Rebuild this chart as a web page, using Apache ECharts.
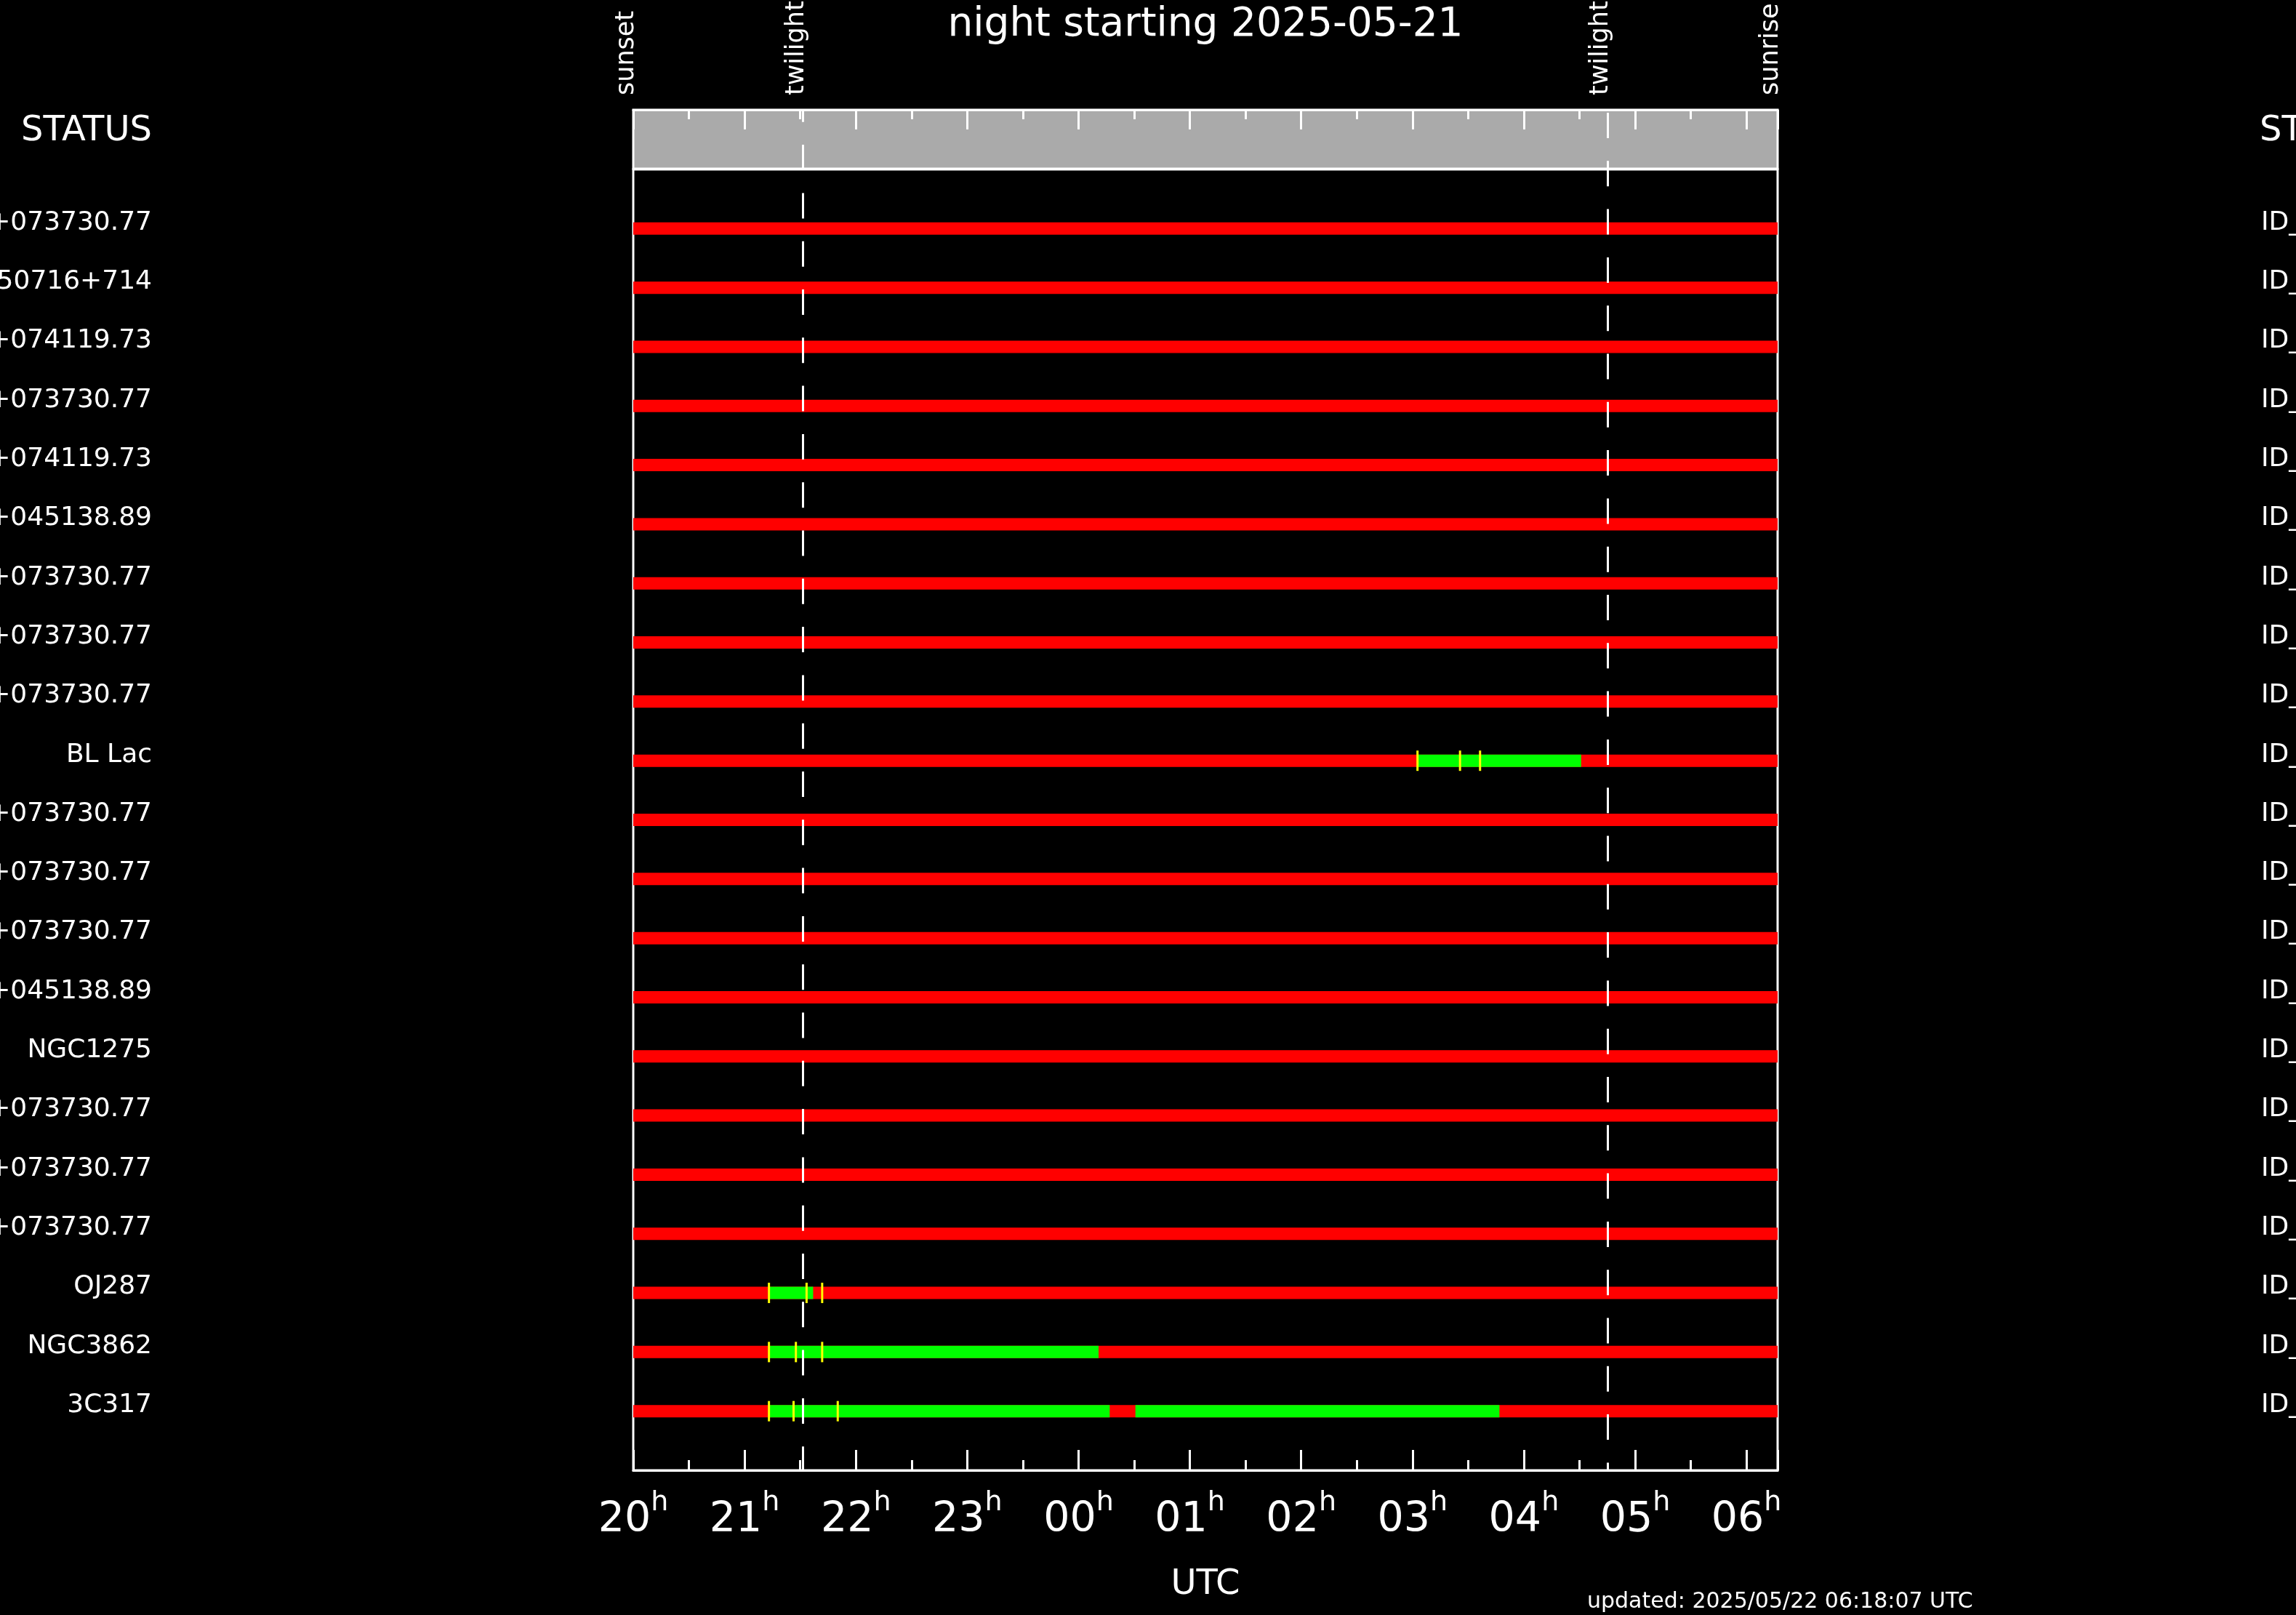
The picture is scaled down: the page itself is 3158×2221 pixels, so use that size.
<!DOCTYPE html>
<html><head><meta charset="utf-8">
<script src="https://cdn.jsdelivr.net/npm/echarts@6/dist/echarts.min.js"></script>
<style>html,body{margin:0;padding:0;background:#000;}#c{width:3158px;height:2221px;}</style>
</head><body><div id="c"></div>
<script>
// ---------------- data ----------------
const chartTitle = 'night starting 2025-05-21';
const updatedText = 'updated: 2025/05/22 06:18:07 UTC';
const axisName = 'UTC';
const statusHeader = 'STATUS';
const nightStart = 20.0;      // sunset, hours UTC (24+ = after midnight)
const nightEnd = 30.28;       // sunrise
const twilightTimes = [21.525, 28.751];
const eventNames = ['sunset', 'twilight', 'twilight', 'sunrise'];
const eventTimes = [20.0, 21.525, 28.751, 30.28];
const targetNames = ['+073730.77', 'S50716+714', '+074119.73', '+073730.77', '+074119.73',
  '+045138.89', '+073730.77', '+073730.77', '+073730.77', 'BL Lac', '+073730.77',
  '+073730.77', '+073730.77', '+045138.89', 'NGC1275', '+073730.77', '+073730.77',
  '+073730.77', 'OJ287', 'NGC3862', '3C317'];
const targetIds = ['ID_', 'ID_', 'ID_', 'ID_', 'ID_', 'ID_', 'ID_', 'ID_', 'ID_', 'ID_', 'ID_',
  'ID_', 'ID_', 'ID_', 'ID_', 'ID_', 'ID_', 'ID_', 'ID_', 'ID_', 'ID_'];
// [row, start, end] observable windows
const greenSegments = [[9, 27.045, 28.515], [18, 21.219, 21.616], [19, 21.219, 24.18],
  [20, 21.219, 24.28], [20, 24.511, 27.781]];
// [row, time] yellow markers
const yellowMarks = [[9, 27.045], [9, 27.427], [9, 27.607], [18, 21.219], [18, 21.557], [18, 21.697],
  [19, 21.219], [19, 21.461], [19, 21.697], [20, 21.219], [20, 21.440], [20, 21.837]];

// ---------------- chart ----------------
const F = 'DejaVu Sans';
const redRows = targetNames.map((n, i) => [i, nightStart, nightEnd]);
const chart = echarts.init(document.getElementById('c'));

function barItem(color, h) {
  return function (params, api) {
    const r = api.value(0), s = api.value(1), e = api.value(2);
    const p1 = api.coord([s, r]), p2 = api.coord([e, r]);
    return { type: 'rect', shape: { x: p1[0], y: p1[1] - h / 2, width: p2[0] - p1[0], height: h },
      style: { fill: color } };
  };
}
const pad = v => { const h = Math.round(v) % 24; return (h < 10 ? '0' : '') + h; };
const dashP = [35, 31.3];
function twl(t, y0, y1, off) {
  const ls = { color: '#fff', width: 3, type: dashP, dashOffset: off };
  return [{ coord: [t, y0], lineStyle: ls }, { coord: [t, y1], lineStyle: ls }];
}
const rowLabel = { color: '#fff', fontSize: 36, fontFamily: F, verticalAlign: 'bottom', lineHeight: 16 };

const option = {
  backgroundColor: '#000',
  animation: false,
  grid: [
    { left: 871, top: 233, width: 1574, height: 1789, containLabel: false, outerBoundsMode: 'none',
      show: true, borderColor: '#fff', borderWidth: 3, backgroundColor: '#000' },
    { left: 871, top: 151, width: 1574, height: 81, containLabel: false, outerBoundsMode: 'none',
      show: true, borderColor: '#fff', borderWidth: 3, backgroundColor: '#aaaaaa' }
  ],
  xAxis: [
    { type: 'value', gridIndex: 0, min: nightStart, max: nightEnd, interval: 1, position: 'bottom',
      axisLine: { show: true, onZero: false, lineStyle: { color: '#fff', width: 3 } },
      axisTick: { show: true, inside: true, length: 28, lineStyle: { color: '#fff', width: 3 } },
      minorTick: { show: true, splitNumber: 2, length: 14, lineStyle: { color: '#fff', width: 3 } },
      splitLine: { show: false },
      axisLabel: { margin: 26, formatter: v => '{d|' + pad(v) + '}{h|h}',
        rich: { d: { fontSize: 57, fontFamily: F, color: '#fff', padding: [15, 0, 0, 0] },
                h: { fontSize: 38, fontFamily: F, color: '#fff', verticalAlign: 'top' } } },
      name: axisName, nameLocation: 'middle', nameGap: 134,
      nameTextStyle: { color: '#fff', fontSize: 48, fontFamily: F } },
    { type: 'value', gridIndex: 1, min: nightStart, max: nightEnd, interval: 1, position: 'top',
      axisLine: { show: true, onZero: false, lineStyle: { color: '#fff', width: 3 } },
      axisTick: { show: true, inside: true, length: 27, lineStyle: { color: '#fff', width: 3 } },
      minorTick: { show: true, splitNumber: 2, length: 13, lineStyle: { color: '#fff', width: 3 } },
      splitLine: { show: false }, axisLabel: { show: false } }
  ],
  yAxis: [
    { type: 'value', gridIndex: 0, inverse: true, min: -1, max: 21, interval: 1, position: 'left',
      axisLine: { show: false, onZero: false }, axisTick: { show: false }, splitLine: { show: false },
      axisLabel: Object.assign({ margin: 662, formatter: v => targetNames[v] || '' }, rowLabel) },
    { type: 'value', gridIndex: 1, min: 0, max: 1, show: false },
    { type: 'value', gridIndex: 0, inverse: true, min: -1, max: 21, interval: 1, position: 'right',
      axisLine: { show: false, onZero: false }, axisTick: { show: false }, splitLine: { show: false },
      axisLabel: Object.assign({ margin: 665, align: 'left', formatter: v => targetIds[v] || '' }, rowLabel) }
  ],
  series: [
    { type: 'custom', xAxisIndex: 0, yAxisIndex: 0, data: redRows, encode: { x: [1, 2], y: 0 },
      renderItem: barItem('#ff0000', 17), z: 2 },
    { type: 'custom', xAxisIndex: 0, yAxisIndex: 0, data: greenSegments, encode: { x: [1, 2], y: 0 },
      renderItem: barItem('#00ff00', 17), z: 3 },
    { type: 'custom', xAxisIndex: 0, yAxisIndex: 0, data: yellowMarks, encode: { x: 1, y: 0 },
      renderItem: function (params, api) {
        const p = api.coord([api.value(1), api.value(0)]);
        return { type: 'rect', shape: { x: p[0] - 1.5, y: p[1] - 14, width: 3, height: 28 }, style: { fill: '#ffff00' } };
      }, z: 4,
      markLine: { silent: true, symbol: 'none', label: { show: false }, z: 10, animation: false,
        data: [twl(twilightTimes[0], -1, 21, 33.9), twl(twilightTimes[1], -1, 21, 11.7)] } },
    { type: 'line', xAxisIndex: 1, yAxisIndex: 1, data: [], z: 5,
      markLine: { silent: true, symbol: 'none', label: { show: false }, z: 10, animation: false,
        data: [twl(twilightTimes[0], 1, 0, 18.2), twl(twilightTimes[1], 1, 0, 62.3)] } }
  ]
};
chart.setOption(option);

const g = [
  { type: 'text', x: 1658, y: 35, style: { text: chartTitle, fill: '#fff', font: '55px "DejaVu Sans"', align: 'center', verticalAlign: 'middle' } },
  { type: 'text', x: 209, y: 181, style: { text: statusHeader, fill: '#fff', font: '48px "DejaVu Sans"', align: 'right', verticalAlign: 'middle' } },
  { type: 'text', x: 3108, y: 181, style: { text: statusHeader, fill: '#fff', font: '48px "DejaVu Sans"', align: 'left', verticalAlign: 'middle' } },
  { type: 'text', x: 2183, y: 2203, style: { text: updatedText, fill: '#fff', font: '30px "DejaVu Sans"', align: 'left', verticalAlign: 'middle' } }
];
eventNames.forEach((n, i) => {
  const px = chart.convertToPixel({ xAxisIndex: 0 }, eventTimes[i]);
  g.push({ type: 'text', x: px - 9, y: 131, rotation: Math.PI / 2,
    style: { text: n, fill: '#fff', font: '35px "DejaVu Sans"', align: 'left', verticalAlign: 'middle' } });
});
chart.setOption({ graphic: g });
</script></body></html>
